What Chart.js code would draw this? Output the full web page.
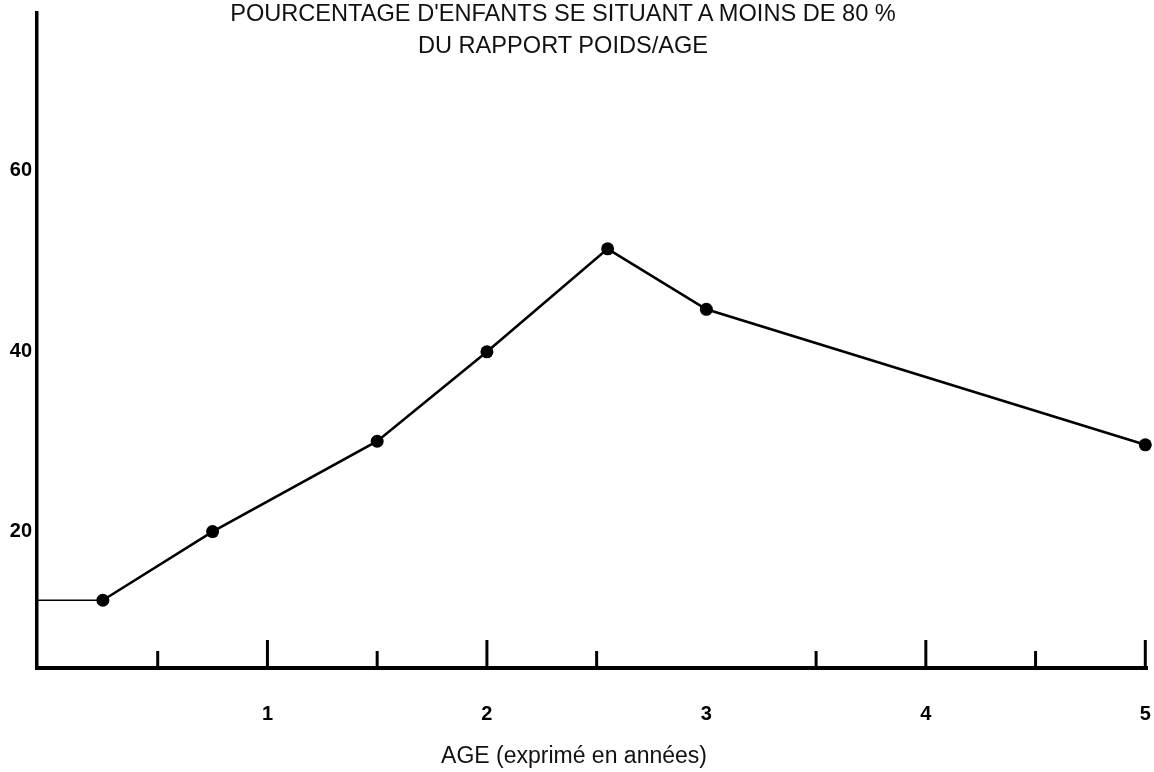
<!DOCTYPE html>
<html>
<head>
<meta charset="utf-8">
<script src="https://cdn.jsdelivr.net/npm/chart.js@4"></script>
<style>
  body { margin: 0; background: #fff; }
  #wrap { position: relative; width: 1154px; height: 772px; }
  .txt { position: absolute; left: 0; text-align: center; color: #111;
         font-family: "Liberation Sans", Arial, sans-serif; white-space: nowrap; }
  #title { top: -3px; width: 1126px; font-size: 23.6px; line-height: 32px; }
  #xtitle { top: 741px; width: 1148px; font-size: 23px; line-height: 28px; }
</style>
</head>
<body>
<div id="wrap">
  <canvas id="chart"></canvas>
  <div id="title" class="txt">POURCENTAGE D'ENFANTS SE SITUANT A MOINS DE 80 %<br>DU RAPPORT POIDS/AGE</div>
  <div id="xtitle" class="txt">AGE (exprimé en années)</div>
</div>
<script>
// ages en années ; le premier point part de l'axe vertical
const ages = [-0.05, 0.25, 0.75, 1.5, 2, 2.55, 3, 5];
const percents = [12, 12, 19.6, 29.6, 39.5, 50.9, 44.2, 29.2];

const xTickLabels = [1, 2, 3, 4, 5];
const yTickLabels = [20, 40, 60];
const majorMarks = [1, 2, 4, 5];       // pas de trait a 3 sur l'original
const minorMarks = [0.5, 1.5, 2.5, 3.5, 4.5];

const tickFont = { family: '"Liberation Sans", Arial, sans-serif', size: 20, weight: 'bold' };

// petits traits verticaux dessines vers l'interieur, au dessus de l'axe
const innerTicks = {
  id: 'innerTicks',
  afterDatasetsDraw(chart) {
    const { ctx, chartArea, scales } = chart;
    const draw = (vals, len) => vals.forEach(v => {
      const x = scales.x.getPixelForValue(v);
      ctx.beginPath();
      ctx.moveTo(x, chartArea.bottom);
      ctx.lineTo(x, chartArea.bottom - len);
      ctx.stroke();
    });
    ctx.save();
    ctx.strokeStyle = '#000';
    ctx.lineWidth = 3;
    draw(majorMarks, 28);
    draw(minorMarks, 17);
    ctx.restore();
  }
};

new Chart(document.getElementById('chart'), {
  type: 'line',
  data: {
    datasets: [{
      data: ages.map((a, i) => ({ x: a, y: percents[i] })),
      borderColor: '#000',
      backgroundColor: '#000',
      borderWidth: 2.6,
      pointRadius: ctx => ctx.dataIndex === 0 ? 0 : 6.5,
      pointBorderWidth: 0,
      tension: 0,
      clip: false,
      segment: { borderWidth: ctx => ctx.p0DataIndex === 0 ? 1.5 : 2.6 }
    }]
  },
  options: {
    responsive: true,
    maintainAspectRatio: false,
    animation: false,
    layout: { padding: { top: 13, right: 6, left: 0, bottom: 0 } },
    plugins: { legend: { display: false }, tooltip: { enabled: false }, title: { display: false } },
    scales: {
      x: {
        type: 'linear',
        min: -0.05,
        max: 5.01,
        afterBuildTicks: axis => { axis.ticks = xTickLabels.map(v => ({ value: v })); },
        afterFit: axis => { axis.height = 104; axis.paddingLeft = 0; axis.paddingRight = 0; },
        grid: { display: false, drawTicks: false },
        border: { display: true, color: '#000', width: 4 },
        ticks: { color: '#000', font: tickFont, padding: 34, maxRotation: 0, autoSkip: false }
      },
      y: {
        type: 'linear',
        min: 4.5,
        max: 77,
        afterBuildTicks: axis => { axis.ticks = yTickLabels.map(v => ({ value: v })); },
        afterFit: axis => { axis.width = 37; axis.paddingTop = 0; axis.paddingBottom = 0; },
        grid: { display: false, drawTicks: false },
        border: { display: true, color: '#000', width: 3.5 },
        ticks: { color: '#000', font: tickFont, padding: 5, labelOffset: 4 }
      }
    }
  },
  plugins: [innerTicks]
});
</script>
</body>
</html>
